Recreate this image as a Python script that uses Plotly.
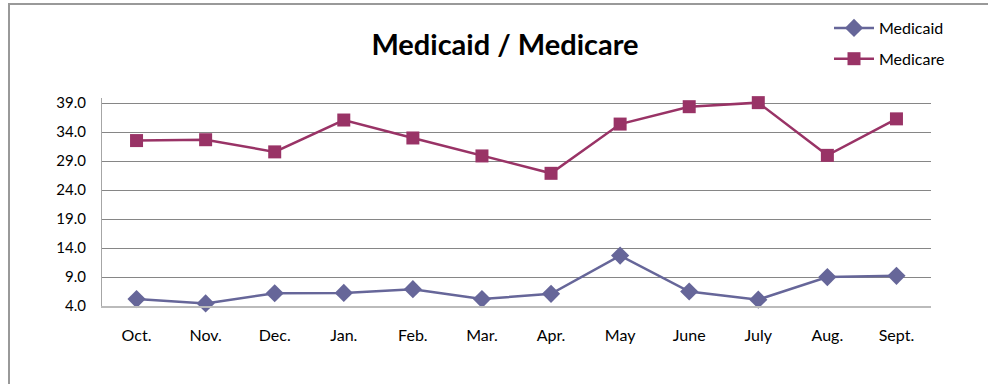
import plotly.graph_objects as go

months = ["Oct.", "Nov.", "Dec.", "Jan.", "Feb.", "Mar.", "Apr.", "May", "June", "July", "Aug.", "Sept."]
medicaid = [5.2, 4.45, 6.2, 6.25, 6.9, 5.2, 6.1, 12.7, 6.5, 5.1, 9.0, 9.2]
medicare = [32.55, 32.7, 30.6, 36.1, 33.0, 29.9, 26.9, 35.4, 38.4, 39.1, 30.0, 36.3]

FONT = "Lato, Liberation Sans, sans-serif"
C_AID = "#666699"
C_CARE = "#993366"

fig = go.Figure()
fig.add_trace(go.Scatter(
    x=months, y=medicaid, name="Medicaid", mode="lines+markers",
    line=dict(color=C_AID, width=2.5),
    marker=dict(symbol="diamond", size=14, color=C_AID),
    cliponaxis=False, legendgroup="a"))
fig.add_trace(go.Scatter(
    x=months, y=medicare, name="Medicare", mode="lines+markers",
    line=dict(color=C_CARE, width=2.5),
    marker=dict(symbol="square", size=13, color=C_CARE),
    cliponaxis=False, legendgroup="b"))

L, R, T, B = 102, 57, 98, 78
W, H = 988, 384
pw, ph = W - L - R, H - T - B
bx = (9 - L) / pw
by = 1 + (T - 4) / ph

fig.update_layout(
    width=W, height=H,
    margin=dict(l=L, r=R, t=T, b=B),
    paper_bgcolor="white", plot_bgcolor="white",
    font=dict(family=FONT, size=15, color="black"),
    title=dict(text="<b>Medicaid / Medicare</b>", x=(505 - L) / pw, xref="paper",
               xanchor="center", y=1 - 45 / H, yanchor="middle",
               font=dict(family=FONT, size=29, color="black")),
    legend=dict(x=(829 - L) / pw, xanchor="left", y=1 - 11 / H, yref="container",
                yanchor="top", font=dict(size=16), traceorder="grouped",
                tracegroupgap=7, itemwidth=40, bgcolor="rgba(0,0,0,0)"),
    xaxis=dict(range=[-0.5, 11.5], showgrid=False, showline=True,
               linecolor="#bbbbbb", linewidth=2,
               ticks="", ticklabelstandoff=14, tickfont=dict(size=16)),
    yaxis=dict(range=[4, 39.9], tick0=4, dtick=5, tickformat=".1f",
               showgrid=True, gridcolor="#868686", gridwidth=1,
               showline=True, linecolor="#a6a6a6", linewidth=1,
               ticks="", ticklabelstandoff=12, zeroline=False,
               tickfont=dict(size=15)),
    shapes=[dict(type="path", xref="paper", yref="paper",
                 path=f"M {bx} -1 L {bx} {by} L 2 {by}",
                 line=dict(color="#999999", width=2))],
)

fig.write_html("out.html")
